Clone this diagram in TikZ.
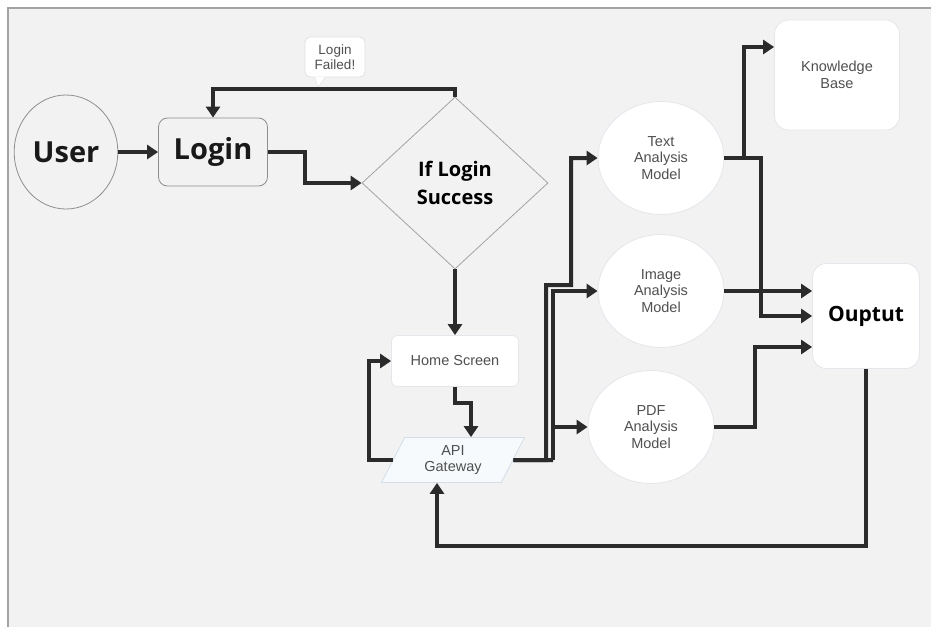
\documentclass[tikz,border=0pt]{standalone}
\usepackage{fontspec}
\setmainfont{Liberation Sans}
\newfontfamily\headfont{Open Sans}
\usetikzlibrary{shapes.geometric,arrows.meta}
\definecolor{bggray}{HTML}{F2F2F2}
\definecolor{framegray}{HTML}{A3A3A3}
\definecolor{linedark}{HTML}{2B2B2B}
\definecolor{edgegray}{HTML}{8E8E8E}
\definecolor{softedge}{HTML}{E3E7EC}
\definecolor{apifill}{HTML}{F7FAFD}
\definecolor{apiedge}{HTML}{D3DEE8}
\definecolor{labelgray}{HTML}{505050}
\begin{document}
\begin{tikzpicture}[x=1pt,y=-1pt]
        \tikzstyle{bigtext}=[font=\headfont\bfseries\fontsize{29}{32}\selectfont,text=black!90]
        \tikzstyle{smalltext}=[font=\fontsize{14.5}{16.5}\selectfont,text=labelgray,align=center]
        \tikzstyle{startnode}=[ellipse,draw=edgegray,thick,fill=bggray,minimum width=94pt,minimum height=114pt,bigtext]
        \tikzstyle{loginbox}=[rectangle,rounded corners=9pt,draw=edgegray,thick,fill=bggray,minimum width=109pt,minimum height=68pt,bigtext]
        \tikzstyle{decision}=[diamond,draw=framegray,thick,fill=bggray,minimum width=186pt,minimum height=172pt,inner sep=0pt,align=center,font=\headfont\bfseries\fontsize{20}{28}\selectfont]
        \tikzstyle{model}=[ellipse,draw=softedge,thick,fill=white,minimum width=126pt,minimum height=113pt,smalltext]
        \tikzstyle{whitebox}=[rectangle,rounded corners=14pt,draw=softedge,thick,fill=white,align=center]
        \tikzstyle{gateway}=[trapezium,trapezium left angle=65,trapezium right angle=115,trapezium stretches=true,draw=apiedge,thick,fill=apifill,minimum width=143pt,minimum height=45pt,inner sep=0pt,smalltext]
        \tikzstyle{flow}=[draw=linedark,line width=4pt,-{Triangle[length=11pt,width=14pt]}]
        \tikzstyle{plain}=[draw=linedark,line width=4pt]
        \useasboundingbox (0,0) rectangle (931,627);
        % frame
        \fill[bggray] (8,8) rectangle (931,627);
        \draw[framegray,line width=1.5pt] (8,627) -- (8,8) -- (931,8);
       \begin{scope}
         \node [startnode] (user) at (66,152) {User};
         \node [loginbox] (login) at (213,152) {Login};
         \node [decision] (dec) at (455,183) {If Login\\Success};
         \node [whitebox,rounded corners=6pt,minimum width=127pt,minimum height=51pt,smalltext] (home) at (455,361) {Home Screen};
         \node [gateway] (api) at (453,460) {API\\Gateway};
         \node [model] (txt) at (661,158) {Text\\Analysis\\Model};
         \node [model] (img) at (661,291) {Image\\Analysis\\Model};
         \node [model] (pdf) at (651,427) {PDF\\Analysis\\Model};
         \node [whitebox,minimum width=125pt,minimum height=110pt,smalltext] (kb) at (837,75) {Knowledge\\Base};
         \node [whitebox,minimum width=107pt,minimum height=105pt,font=\headfont\bfseries\fontsize{21}{24}\selectfont] (out) at (866,316) {Ouptut};
         \node [whitebox,rounded corners=5pt,draw=black!12,minimum width=60pt,minimum height=40pt,inner sep=1pt,font=\fontsize{13.5}{15}\selectfont,text=labelgray] (fail) at (335,57) {Login\\Failed!};
         \fill[white] ([xshift=-20pt,yshift=0.8pt]fail.south) -- ([xshift=-17pt,yshift=-10pt]fail.south) -- ([xshift=-10pt,yshift=0.8pt]fail.south) -- cycle;
         \draw[black!12] ([xshift=-20pt]fail.south) -- ([xshift=-17pt,yshift=-10pt]fail.south) -- ([xshift=-10pt]fail.south);
         \coordinate (busa) at (546,460);
         \coordinate (busb) at (553,460);
         % login part
         \path[flow] (user) -- (login);
         \path[flow] (login.east) -- ++(37,0) |- (dec.west);
         \path[flow] (dec.north) -- ++(0,-8) -| (login.north);
         \path[flow] (dec.south) -- (home.north);
         \path[flow] (home.south) -- ++(0,16) -| ([xshift=18pt]api.north);
         \path[flow] (api.west) -- ++(-24,0) |- (home.west);
         % models
         \path[plain] (api.east) -- (busb);
         \path[flow] (api.east) -- (busa) -- ++(0,-175) -- ++(25,0) |- (txt.west);
         \path[flow] (busb) |- (img.west);
         \path[flow] (busb |- pdf.west) -- (pdf.west);
         \path[flow] (txt.east) -- ++(20,0) |- ([yshift=28pt]kb.west);
         \path[flow] (txt.east) -- ++(37,0) |- (out.west);
         \path[flow] (img.east) -- (img.east -| out.west);
         \path[flow] (pdf.east) -- ++(41,0) |- ([yshift=-31pt]out.west);
         \path[flow] (out.south) -- ++(0,177) -| ([xshift=-16pt]api.south);
        \end{scope}
      \end{tikzpicture}
\end{document}
